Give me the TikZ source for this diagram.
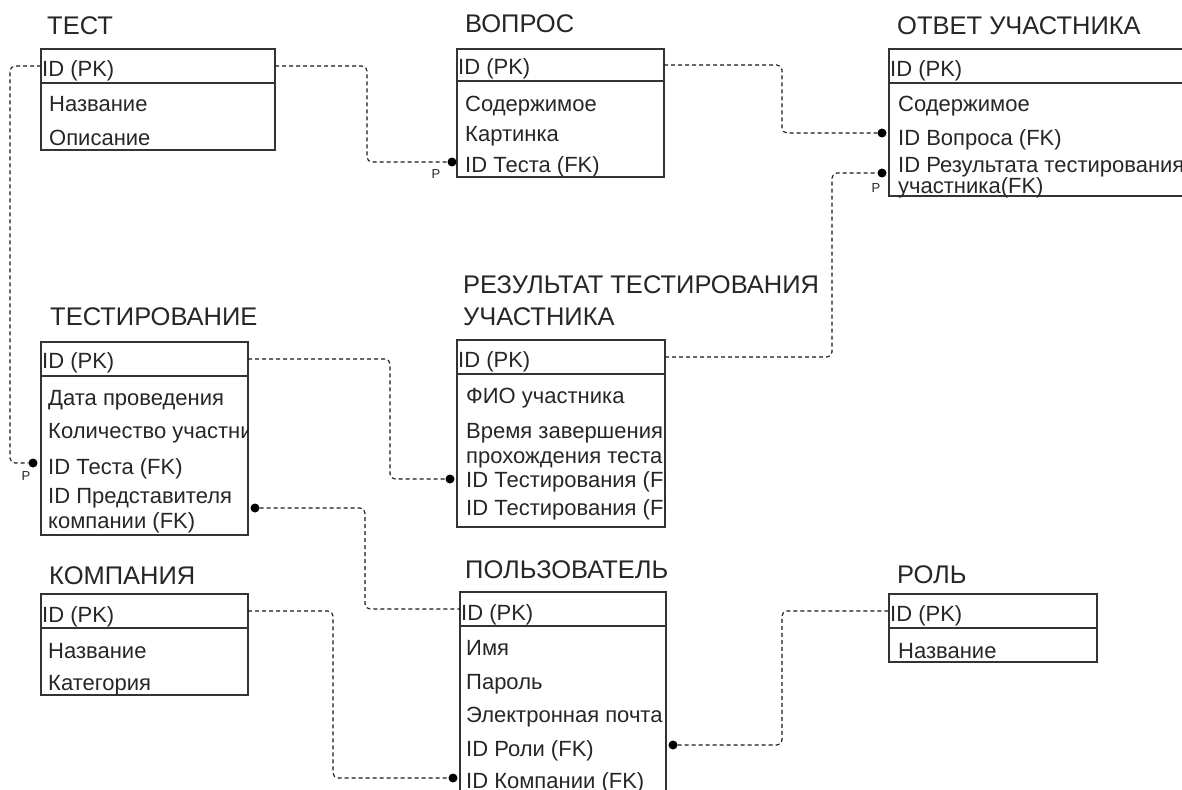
\documentclass[tikz,border=0pt]{standalone}
\usepackage{fontspec}
\setmainfont{Liberation Sans}
\usetikzlibrary{positioning}

\tikzset{
    tbl/.style={draw=black!80, line width=1.4pt, inner sep=0pt, outer sep=0pt},
    ttl/.style={anchor=base west, inner sep=0pt, align=left, text=black!85, font=\fontsize{25.5}{32}\selectfont},
    fld/.style={anchor=base west, inner sep=0pt, align=left, text=black!85, font=\fontsize{22}{25}\selectfont},
    lnk/.style={draw=black!90, line width=1.1pt, dash pattern=on 4pt off 3pt, rounded corners=5pt},
    fkdot/.style={circle, fill=black, inner sep=0pt, minimum size=9pt},
    pmark/.style={inner sep=0pt, text=black!85, font=\fontsize{13}{15}\selectfont}
}

\begin{document}
\begin{tikzpicture}[x=1pt, y=-1pt]
    \useasboundingbox (0,0) rectangle (1182,789);
    \clip (0,0) rectangle (1182,789);

    % ТЕСТ
    \node[ttl] (test-t) at (47,35) {ТЕСТ};
    \node[tbl, anchor=north west, minimum width=234pt, minimum height=34pt] (test-hd) at (41,49) {};
    \node[tbl, below=0pt of test-hd, minimum width=234pt, minimum height=67pt] (test-bd) {};
    \node[fld] (test-id) at (42,77) {ID (PK)};
    \node[fld] (test-name) at (49,112) {Название};
    \node[fld] (test-desc) at (49,145) {Описание};

    % ВОПРОС
    \node[ttl] (quest-t) at (465,33) {ВОПРОС};
    \node[tbl, anchor=north west, minimum width=207pt, minimum height=32pt] (quest-hd) at (457,49) {};
    \node[tbl, below=0pt of quest-hd, minimum width=207pt, minimum height=96pt] (quest-bd) {};
    \node[fld] (quest-id) at (458,75) {ID (PK)};
    \node[fld] (quest-text) at (465,111) {Содержимое};
    \node[fld] (quest-img) at (465,142) {Картинка};
    \node[fld] (quest-test) at (465,172) {ID Теста (FK)};

    % ОТВЕТ УЧАСТНИКА
    \node[ttl] (ans-t) at (897,35) {ОТВЕТ УЧАСТНИКА};
    \node[tbl, anchor=north west, minimum width=311pt, minimum height=34pt] (ans-hd) at (889,49) {};
    \node[tbl, below=0pt of ans-hd, minimum width=311pt, minimum height=113pt] (ans-bd) {};
    \node[fld] (ans-id) at (890,77) {ID (PK)};
    \node[fld] (ans-text) at (898,112) {Содержимое};
    \node[fld] (ans-quest) at (898,145) {ID Вопроса (FK)};
    \node[fld, font=\fontsize{22}{21}\selectfont] (ans-res) at (898,193) {ID Результата тестирования\\участника(FK)};

    % РЕЗУЛЬТАТ ТЕСТИРОВАНИЯ УЧАСТНИКА
    \node[ttl] (res-t) at (463,325) {РЕЗУЛЬТАТ ТЕСТИРОВАНИЯ\\УЧАСТНИКА};
    \node[tbl, anchor=north west, minimum width=208pt, minimum height=34pt] (res-hd) at (457,340) {};
    \node[tbl, below=0pt of res-hd, minimum width=208pt, minimum height=153pt] (res-bd) {};
    \begin{scope}
        \clip (res-hd.north west) rectangle (res-bd.south east);
        \node[fld] (res-id) at (458,367) {ID (PK)};
        \node[fld] (res-fio) at (466,403) {ФИО участника};
        \node[fld] (res-time) at (466,463) {Время завершения\\прохождения теста};
        \node[fld] (res-tst1) at (466,487) {ID Тестирования (FK)};
        \node[fld] (res-tst2) at (466,515) {ID Тестирования (FK)};
    \end{scope}

    % ТЕСТИРОВАНИЕ
    \node[ttl] (tst-t) at (50,325) {ТЕСТИРОВАНИЕ};
    \node[tbl, anchor=north west, minimum width=207pt, minimum height=34pt] (tst-hd) at (41,342) {};
    \node[tbl, below=0pt of tst-hd, minimum width=207pt, minimum height=159pt] (tst-bd) {};
    \begin{scope}
        \clip (tst-hd.north west) rectangle (tst-bd.south east);
        \node[fld] (tst-id) at (42,368) {ID (PK)};
        \node[fld] (tst-date) at (48,405) {Дата проведения};
        \node[fld] (tst-count) at (48,438) {Количество участников};
        \node[fld] (tst-test) at (48,474) {ID Теста (FK)};
        \node[fld] (tst-rep) at (48,528) {ID Представителя\\компании (FK)};
    \end{scope}

    % КОМПАНИЯ
    \node[ttl] (comp-t) at (49,584) {КОМПАНИЯ};
    \node[tbl, anchor=north west, minimum width=207pt, minimum height=34pt] (comp-hd) at (41,594) {};
    \node[tbl, below=0pt of comp-hd, minimum width=207pt, minimum height=67pt] (comp-bd) {};
    \node[fld] (comp-id) at (42,622) {ID (PK)};
    \node[fld] (comp-name) at (48,658) {Название};
    \node[fld] (comp-cat) at (48,690) {Категория};

    % ПОЛЬЗОВАТЕЛЬ
    \node[ttl] (usr-t) at (465,578) {ПОЛЬЗОВАТЕЛЬ};
    \node[tbl, anchor=north west, minimum width=206pt, minimum height=34pt] (usr-hd) at (460,592) {};
    \node[tbl, below=0pt of usr-hd, minimum width=206pt, minimum height=174pt] (usr-bd) {};
    \node[fld] (usr-id) at (461,620) {ID (PK)};
    \node[fld] (usr-name) at (466,655) {Имя};
    \node[fld] (usr-pass) at (466,689) {Пароль};
    \node[fld] (usr-mail) at (466,722) {Электронная почта};
    \node[fld] (usr-role) at (466,756) {ID Роли (FK)};
    \node[fld] (usr-comp) at (466,788) {ID Компании (FK)};

    % РОЛЬ
    \node[ttl] (role-t) at (897,583) {РОЛЬ};
    \node[tbl, anchor=north west, minimum width=208pt, minimum height=34pt] (role-hd) at (889,594) {};
    \node[tbl, below=0pt of role-hd, minimum width=208pt, minimum height=34pt] (role-bd) {};
    \node[fld] (role-id) at (890,621) {ID (PK)};
    \node[fld] (role-name) at (898,658) {Название};

    % концы связей
    \node[fkdot] (quest-fk) at (452,162) {};
    \node[fkdot] (ans-fk1) at (882,133) {};
    \node[fkdot] (ans-fk2) at (882,173) {};
    \node[fkdot] (res-fk) at (450,479) {};
    \node[fkdot] (tst-fk1) at (33,463) {};
    \node[fkdot] (tst-fk2) at (255,508) {};
    \node[fkdot] (usr-fk1) at (453,778) {};
    \node[fkdot] (usr-fk2) at (673,745) {};

    \node[pmark] (p1) at (436,174) {P};
    \node[pmark] (p2) at (876,188) {P};
    \node[pmark] (p3) at (26,476) {P};

    % связи
    \draw[lnk] (test-hd.east) -| (367,110) |- (quest-fk);
    \draw[lnk] (test-hd.west) -| (10,300) |- (tst-fk1);
    \draw[lnk] (quest-hd.east) -| (782,100) |- (ans-fk1);
    \draw[lnk] (res-hd.east) -| (832,250) |- (ans-fk2);
    \draw[lnk] (tst-hd.east) -| (390,420) |- (res-fk);
    \draw[lnk] (tst-fk2) -| (365,560) |- (usr-hd.west);
    \draw[lnk] (comp-hd.east) -| (333,700) |- (usr-fk1);
    \draw[lnk] (usr-fk2) -| (782,680) |- (role-hd.west);
\end{tikzpicture}
\end{document}
